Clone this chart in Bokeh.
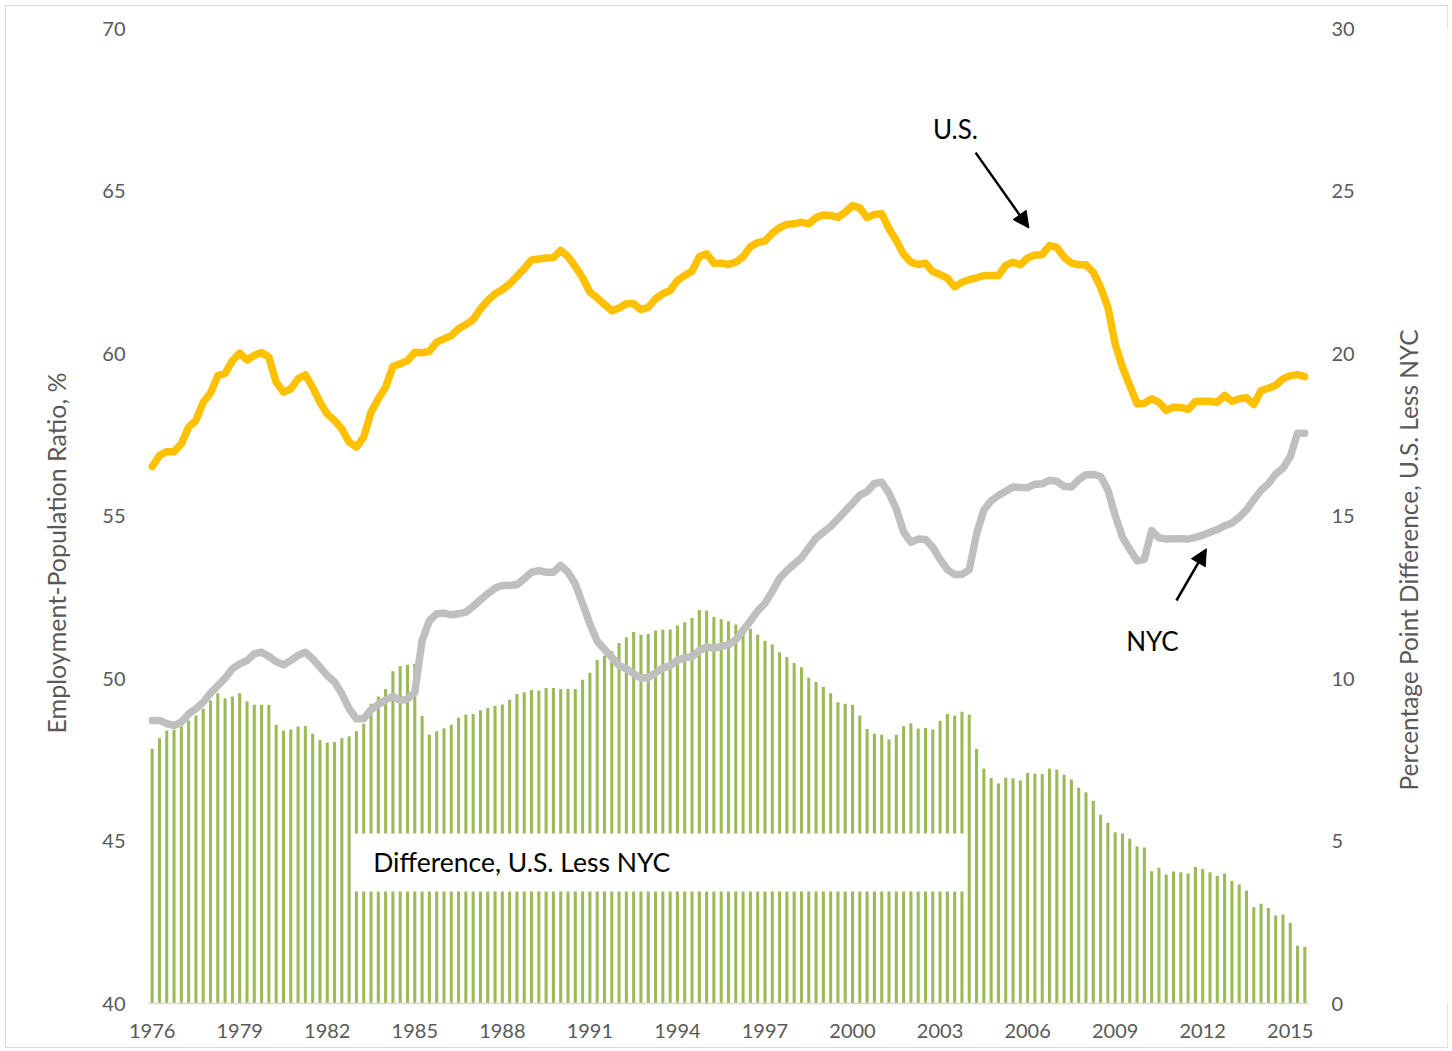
import math
from bokeh.plotting import figure
from bokeh.layouts import row
from bokeh.models import (Range1d, LinearAxis, FixedTicker, Label, Arrow, Title,
                          NormalHead, BoxAnnotation, ColumnDataSource)
from bokeh.embed import file_html
from bokeh.resources import INLINE

# ---------------- data (quarterly, 1976Q1 - 2015Q3) ----------------
start_year = 1976
n_quarters = 159
quarters = [f"{start_year + k // 4}Q{k % 4 + 1}" for k in range(n_quarters)]

us_ratio = [
    56.52, 56.86, 56.98, 56.98, 57.22, 57.73, 57.94, 58.50, 58.78, 59.32,
    59.39, 59.78, 60.01, 59.80, 59.94, 60.03, 59.89, 59.12, 58.81, 58.91,
    59.22, 59.35, 58.96, 58.50, 58.14, 57.94, 57.68, 57.27, 57.12, 57.43,
    58.19, 58.61, 58.96, 59.60, 59.68, 59.78, 60.04, 60.02, 60.07, 60.35,
    60.45, 60.55, 60.76, 60.89, 61.04, 61.37, 61.63, 61.84, 61.96, 62.14,
    62.37, 62.61, 62.88, 62.91, 62.94, 62.95, 63.17, 62.98, 62.68, 62.33,
    61.89, 61.71, 61.51, 61.32, 61.40, 61.53, 61.53, 61.35, 61.42, 61.68,
    61.84, 61.94, 62.25, 62.40, 62.53, 62.98, 63.07, 62.78, 62.78, 62.74,
    62.81, 62.98, 63.29, 63.41, 63.46, 63.70, 63.87, 63.97, 63.99, 64.04,
    63.99, 64.18, 64.26, 64.25, 64.19, 64.35, 64.55, 64.48, 64.18, 64.28,
    64.30, 63.84, 63.48, 63.05, 62.81, 62.74, 62.78, 62.52, 62.43, 62.32,
    62.05, 62.19, 62.27, 62.33, 62.40, 62.40, 62.40, 62.71, 62.81, 62.73,
    62.94, 63.03, 63.04, 63.32, 63.27, 62.96, 62.78, 62.73, 62.73, 62.50,
    62.04, 61.42, 60.30, 59.58, 59.02, 58.45, 58.47, 58.61, 58.50, 58.25,
    58.35, 58.34, 58.28, 58.52, 58.53, 58.53, 58.50, 58.71, 58.53, 58.61,
    58.64, 58.43, 58.86, 58.93, 59.02, 59.22, 59.32, 59.35, 59.29,
]

nyc_ratio = [
    48.71, 48.71, 48.61, 48.55, 48.66, 48.91, 49.07, 49.27, 49.55, 49.78,
    50.01, 50.30, 50.45, 50.55, 50.76, 50.81, 50.68, 50.52, 50.42, 50.55,
    50.71, 50.81, 50.61, 50.35, 50.09, 49.89, 49.53, 49.07, 48.76, 48.76,
    49.04, 49.20, 49.34, 49.45, 49.32, 49.37, 49.58, 51.17, 51.78, 51.99,
    52.01, 51.96, 51.99, 52.04, 52.22, 52.42, 52.61, 52.78, 52.86, 52.86,
    52.89, 53.07, 53.27, 53.32, 53.27, 53.27, 53.48, 53.27, 52.91, 52.30,
    51.68, 51.15, 50.90, 50.65, 50.40, 50.30, 50.15, 50.01, 50.03, 50.17,
    50.32, 50.39, 50.56, 50.64, 50.67, 50.86, 50.97, 50.93, 50.99, 51.03,
    51.19, 51.48, 51.77, 52.08, 52.31, 52.68, 53.08, 53.32, 53.52, 53.71,
    54.02, 54.32, 54.50, 54.68, 54.91, 55.15, 55.39, 55.64, 55.75, 56.00,
    56.04, 55.70, 55.22, 54.51, 54.19, 54.29, 54.28, 54.04, 53.67, 53.35,
    53.20, 53.20, 53.35, 54.45, 55.18, 55.47, 55.63, 55.76, 55.89, 55.88,
    55.87, 55.98, 55.99, 56.10, 56.07, 55.91, 55.89, 56.12, 56.27, 56.28,
    56.22, 55.80, 55.02, 54.35, 53.97, 53.62, 53.67, 54.55, 54.33, 54.29,
    54.30, 54.30, 54.29, 54.34, 54.41, 54.50, 54.58, 54.70, 54.78, 54.96,
    55.19, 55.50, 55.79, 55.99, 56.29, 56.47, 56.83, 57.55, 57.55,
]

diff_pp = [
    7.84, 8.16, 8.40, 8.42, 8.52, 8.71, 8.86, 9.07, 9.32, 9.55,
    9.39, 9.45, 9.55, 9.29, 9.19, 9.19, 9.19, 8.58, 8.40, 8.43,
    8.52, 8.54, 8.30, 8.11, 8.03, 8.05, 8.16, 8.22, 8.38, 8.61,
    9.22, 9.45, 9.68, 10.22, 10.38, 10.42, 10.45, 8.85, 8.27, 8.38,
    8.47, 8.58, 8.79, 8.89, 8.91, 9.02, 9.09, 9.16, 9.20, 9.35,
    9.52, 9.58, 9.65, 9.63, 9.71, 9.71, 9.68, 9.68, 9.68, 9.96,
    10.18, 10.57, 10.70, 10.85, 11.09, 11.27, 11.43, 11.35, 11.37, 11.48,
    11.51, 11.51, 11.63, 11.73, 11.86, 12.11, 12.09, 11.89, 11.82, 11.76,
    11.66, 11.53, 11.53, 11.35, 11.16, 11.05, 10.81, 10.66, 10.48, 10.35,
    10.02, 9.89, 9.75, 9.55, 9.27, 9.22, 9.19, 8.86, 8.45, 8.30,
    8.27, 8.12, 8.27, 8.53, 8.62, 8.46, 8.48, 8.43, 8.70, 8.91,
    8.86, 8.98, 8.89, 7.83, 7.23, 6.94, 6.77, 6.95, 6.93, 6.86,
    7.09, 7.07, 7.06, 7.23, 7.20, 7.04, 6.89, 6.64, 6.50, 6.24,
    5.81, 5.56, 5.27, 5.23, 5.07, 4.83, 4.80, 4.07, 4.18, 3.97,
    4.06, 4.04, 4.00, 4.20, 4.14, 4.04, 3.93, 4.00, 3.78, 3.66,
    3.48, 2.96, 3.07, 2.94, 2.71, 2.74, 2.48, 1.78, 1.74,
]

year_labels = ["1976", "1979", "1982", "1985", "1988", "1991", "1994",
               "1997", "2000", "2003", "2006", "2009", "2012", "2015"]
left_ticks = [40, 45, 50, 55, 60, 65, 70]
right_ticks = [0, 5, 10, 15, 20, 25, 30]

left_title = "Employment-Population Ratio, %"
right_title = "Percentage Point Difference, U.S. Less NYC"

# ---------------- figure ----------------
FONT = "Lato"
GREY_TXT = "#595959"
H = 1041
TOP, BOTTOM = 22, 44

src = ColumnDataSource(dict(idx=list(range(n_quarters)), q=quarters,
                            us=us_ratio, nyc=nyc_ratio, diff=diff_pp))

p = figure(width=1372, height=H, output_backend="svg", toolbar_location=None,
           x_range=Range1d(-0.5, n_quarters - 0.5), y_range=Range1d(40, 70),
           min_border_left=142, min_border_right=70,
           min_border_top=TOP, min_border_bottom=BOTTOM)
p.outline_line_color = None
p.background_fill_color = "white"
p.border_fill_color = "white"
p.xgrid.visible = False
p.ygrid.visible = False

p.extra_y_ranges = {"diff": Range1d(0, 30)}
right_axis = LinearAxis(y_range_name="diff")
p.add_layout(right_axis, "right")

# x axis
tick_pos = [(int(y) - start_year) * 4 for y in year_labels]
p.xaxis.ticker = FixedTicker(ticks=tick_pos)
p.xaxis.major_label_overrides = {t: lab for t, lab in zip(tick_pos, year_labels)}
p.xaxis.axis_line_color = "#D9D9D9"
p.xaxis.axis_line_width = 1.5
p.xaxis.major_tick_line_color = None
p.xaxis.minor_tick_line_color = None
p.xaxis.major_tick_out = 0
p.xaxis.major_tick_in = 0
p.xaxis.minor_tick_out = 0
p.xaxis.major_label_standoff = 20
p.xaxis.major_label_text_font = FONT
p.xaxis.major_label_text_font_size = "20px"
p.xaxis.major_label_text_color = GREY_TXT

p.yaxis[0].ticker = FixedTicker(ticks=left_ticks)
right_axis.ticker = FixedTicker(ticks=right_ticks)
for ax in (p.yaxis[0], right_axis):
    ax.axis_line_color = None
    ax.major_tick_line_color = None
    ax.minor_tick_line_color = None
    ax.major_tick_out = 0
    ax.major_tick_in = 0
    ax.minor_tick_out = 0
    ax.major_label_standoff = 23
    ax.major_label_text_font = FONT
    ax.major_label_text_font_size = "20px"
    ax.major_label_text_color = GREY_TXT

# left axis title as a side title (sits a little below centre, as in the reference)
p.add_layout(Title(text=left_title, align="left", offset=270,
                   vertical_align="middle", standoff=56,
                   text_font=FONT, text_font_size="25px", text_font_style="normal",
                   text_color=GREY_TXT), "left")

# bars (right axis)
p.vbar(x="idx", top="diff", bottom=0, width=0.42, source=src,
       fill_color="#9BBB59", line_color=None, y_range_name="diff")

# lines (left axis)
p.line(x="idx", y="nyc", source=src, line_color="#BFBFBF", line_width=7.5,
       line_join="round", line_cap="round")
p.line(x="idx", y="us", source=src, line_color="#FFC000", line_width=7.5,
       line_join="round", line_cap="round")

# text box for the bar series
p.add_layout(BoxAnnotation(left=27.3, right=111.5, bottom=43.45, top=45.23,
                           fill_color="white", fill_alpha=1.0, line_color=None))
p.add_layout(Label(x=30.3, y=44.34, text="Difference, U.S. Less NYC",
                   text_font=FONT, text_font_size="26.5px", text_color="black",
                   text_align="left", text_baseline="middle"))

# annotations
p.add_layout(Label(x=110.1, y=66.92, text="U.S.", text_font=FONT,
                   text_font_size="26px", text_color="black",
                   text_align="center", text_baseline="middle"))
p.add_layout(Arrow(end=NormalHead(size=16, fill_color="black", line_color="black"),
                   x_start=112.87, y_start=66.18, x_end=120.17, y_end=63.86,
                   line_width=2.5, line_color="black"))
p.add_layout(Label(x=137.1, y=51.14, text="NYC", text_font=FONT,
                   text_font_size="26px", text_color="black",
                   text_align="center", text_baseline="middle"))
p.add_layout(Arrow(end=NormalHead(size=16, fill_color="black", line_color="black"),
                   x_start=140.4, y_start=52.4, x_end=144.5, y_end=53.99,
                   line_width=2.5, line_color="black"))

# narrow companion panel that carries the right-hand axis title (reads bottom-to-top)
p2 = figure(width=69, height=H, output_backend="svg", toolbar_location=None,
            x_axis_location=None, y_axis_location=None,
            x_range=Range1d(0, 1), y_range=Range1d(0, 30),
            min_border_left=68, min_border_right=0,
            min_border_top=TOP, min_border_bottom=BOTTOM)
p2.outline_line_color = None
p2.background_fill_color = "white"
p2.border_fill_color = "white"
p2.grid.visible = False
p2.add_layout(Title(text=right_title, align="left", offset=213,
                    vertical_align="middle", standoff=47,
                    text_font=FONT, text_font_size="24.4px", text_font_style="normal",
                    text_color=GREY_TXT), "left")

layout = row(p, p2, spacing=0)
layout.styles = {"border": "1px solid #D9D9D9", "margin": "5px"}

open("out.html", "w").write(file_html(layout, INLINE))
